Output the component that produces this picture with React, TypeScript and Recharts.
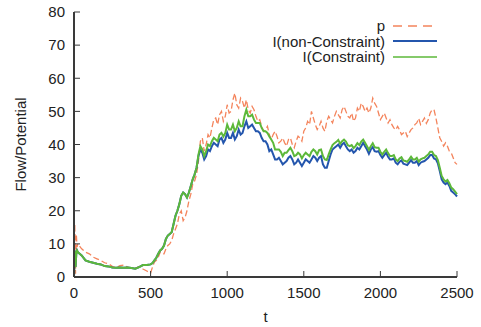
import React from 'react';
import { LineChart, Line, XAxis, YAxis, Legend } from 'recharts';

const tValues = [
  0, 5, 10, 15, 20, 25, 50, 75, 100, 125, 150, 175, 200, 225, 250, 275, 300, 325, 350, 375, 400, 425, 450, 475, 500,
  512.5, 525, 537.5, 550, 562.5, 575, 587.5, 600,
  612.5, 625, 637.5, 650, 662.5, 675, 687.5, 700,
  712.5, 725, 737.5, 750, 762.5, 775, 787.5, 800,
  812.5, 825, 837.5, 850, 862.5, 875, 887.5, 900,
  912.5, 925, 937.5, 950, 962.5, 975, 987.5, 1000,
  1012.5, 1025, 1037.5, 1050, 1062.5, 1075, 1087.5, 1100,
  1112.5, 1125, 1137.5, 1150, 1162.5, 1175, 1187.5, 1200,
  1212.5, 1225, 1237.5, 1250, 1262.5, 1275, 1287.5, 1300,
  1312.5, 1325, 1337.5, 1350, 1362.5, 1375, 1387.5, 1400,
  1412.5, 1425, 1437.5, 1450, 1462.5, 1475, 1487.5, 1500,
  1512.5, 1525, 1537.5, 1550, 1562.5, 1575, 1587.5, 1600,
  1612.5, 1625, 1637.5, 1650, 1662.5, 1675, 1687.5, 1700,
  1712.5, 1725, 1737.5, 1750, 1762.5, 1775, 1787.5, 1800,
  1812.5, 1825, 1837.5, 1850, 1862.5, 1875, 1887.5, 1900,
  1912.5, 1925, 1937.5, 1950, 1962.5, 1975, 1987.5, 2000,
  2012.5, 2025, 2037.5, 2050, 2062.5, 2075, 2087.5, 2100,
  2112.5, 2125, 2137.5, 2150, 2162.5, 2175, 2187.5, 2200,
  2212.5, 2225, 2237.5, 2250, 2262.5, 2275, 2287.5, 2300,
  2312.5, 2325, 2337.5, 2350, 2362.5, 2375, 2387.5, 2400,
  2412.5, 2425, 2437.5, 2450, 2462.5, 2475, 2487.5, 2500,
];

const pValues = [
  0, 16, 1, 13, 9, 10, 8.5, 7.5, 7, 6, 5.5, 5, 4.3, 4, 3.2, 2.8, 3.4, 3.6, 3.0, 2.7, 2.6, 3.2, 2.4, 1.8, 1.2,
  3, 4.5, 5, 6, 7.5, 7, 7, 8.5,
  9.5, 10, 11, 13, 14.5, 16, 19, 20,
  17, 18, 20, 23, 25, 28, 29, 31,
  35, 41, 42, 38, 40, 43, 42, 45,
  47.5, 48, 46, 49, 50, 47, 48.5, 52,
  49.5, 50, 53.5, 55.5, 52, 51, 54, 53,
  51, 53.5, 50.5, 49.5, 51.5, 50.5, 48.5, 47,
  47.5, 45.5, 44, 44.5, 45.5, 43, 41.5, 43,
  44, 42.5, 40.5, 41, 42, 40.5, 39.5, 41.5,
  42, 40, 39, 41, 42.5, 42, 41, 44,
  45, 47, 46, 50, 48, 46, 44.5, 45.5,
  47, 45, 44, 47, 48.5, 47.5, 46.5, 48.5,
  50, 49, 48, 50.5, 51.5, 50, 48.5, 48,
  49.5, 47, 48, 51, 50, 52.5, 51.5, 50,
  51, 49.5, 51, 54, 52.5, 51.5, 49.5, 47.5,
  48.5, 49.5, 48, 46.5, 47.5, 46, 45, 44.4,
  45.5, 44.4, 43, 43.5, 44, 42.4, 43.5, 44.5,
  45, 46, 46.5, 47.9, 46, 47, 48, 46.4,
  47.5, 49.5, 50.5, 50.5, 48, 45, 42, 40.9,
  39.5, 40.5, 39.5, 38, 37.5, 36, 34.5, 34,
];

const nonConstraintValues = [
  0, 8, 3, 7, 8, 7.5, 6.5, 5, 4.6, 4.3, 4, 3.8, 3.3, 3.2, 2.9, 2.8, 2.9, 2.8, 2.9, 2.7, 2.5, 3.0, 3.6, 3.6, 3.8,
  4.2, 5.0, 5.8, 7, 8, 8.5, 9.5, 11.5,
  12.5, 13, 13.5, 16, 18.5, 20, 22, 24.5,
  25.5, 25, 24, 25.5, 27.5, 29.5, 31, 33,
  36.5, 38.5, 37.5, 35.5, 36.5, 38.5, 38, 39.5,
  40.5, 40, 39.5, 41.5, 42, 40.5, 41.5, 43.5,
  42, 42, 43.5, 41.5, 42.5, 44.5, 43, 43.5,
  45.5, 47, 45, 45.5, 46, 45, 44, 44,
  43.5, 42, 41, 41, 40, 38, 38.5, 37,
  35.5, 35.5, 36, 35, 34, 34.5, 35, 36,
  36.5, 35.5, 34, 34.5, 35.5, 34.5, 33.5, 34.5,
  35.5, 35, 34.5, 35.5, 36.5, 36, 35, 36,
  36.5, 34, 33, 33, 35, 37, 38.5, 39,
  39.5, 40, 39, 40, 40.5, 39.5, 38.5, 38,
  38.5, 37.5, 38, 39, 38.5, 39.5, 40.5, 39.5,
  38.5, 37.2, 38.5, 39.2, 38, 37.8, 38, 36.8,
  36, 36.8, 37.5, 36.3, 35.5, 35.5, 35.8, 34.5,
  34, 34.8, 35.2, 34.2, 34, 33.8, 34.5, 35.3,
  34.5, 34.5, 35, 33.8, 34.5, 34.8, 35, 35.5,
  36, 36.8, 36.8, 35.8, 35.5, 34.3, 32, 29.5,
  28.5, 28, 28.5, 27.5, 26, 25.5, 25, 24.3,
];

const constraintValues = [
  0, 8, 3, 7, 8, 7.5, 6.5, 5, 4.6, 4.3, 4, 3.8, 3.3, 3.2, 2.9, 2.8, 2.9, 2.8, 2.9, 2.7, 2.5, 3.0, 3.6, 3.6, 3.8,
  4.2, 5.0, 5.8, 7, 8, 8.5, 9.5, 11.5,
  12.5, 13, 13.5, 16, 18.5, 20, 22, 24.5,
  25.5, 25, 24, 25.5, 27.5, 29.5, 31, 33,
  37, 39.5, 38.5, 36.5, 38, 40, 39.5, 41,
  42, 41.5, 41, 43, 43.5, 42.4, 43.5, 46,
  44.5, 44.5, 46, 44, 45, 47, 45.5, 45.5,
  48.5, 50.5, 48.5, 48.5, 49, 47.5, 46.5, 46.5,
  46.5, 45, 44, 44, 43.5, 42.4, 41.5, 40.5,
  38.5, 38.5, 38.5, 37.8, 36.5, 37.5, 37.5, 38.3,
  39, 38, 36.5, 36.8, 37.5, 37, 35.8, 36.8,
  37.5, 37, 36.5, 37.8, 38.5, 38, 37, 38.3,
  38.5, 36.5, 35.5, 35.3, 37, 38.5, 39.8, 40.4,
  40.8, 41.4, 40.2, 41, 41.5, 40.9, 39.8, 39.5,
  39.8, 38.9, 39.5, 40.4, 39.8, 40.9, 41.5, 40.5,
  39.5, 38.4, 39.5, 40.4, 39.2, 39, 39, 37.8,
  37, 37.8, 38.5, 37.4, 36.5, 36.5, 36.8, 35.5,
  35, 35.8, 36.2, 35.2, 35, 34.8, 35.5, 36.3,
  35.5, 35.5, 36, 34.8, 35.5, 35.8, 36, 36.5,
  37, 37.8, 37.8, 36.8, 36.5, 35.3, 33, 30.5,
  29.5, 28.8, 29.3, 28.3, 27, 26.5, 25.8, 25,
];

const xTicks = [0, 500, 1000, 1500, 2000, 2500];
const yTicks = [0, 10, 20, 30, 40, 50, 60, 70, 80];

const seriesNames = ['p', 'I(non-Constraint)', 'I(Constraint)'];

const data = tValues.map((t, i) => ({
  t,
  p: pValues[i],
  non: nonConstraintValues[i],
  con: constraintValues[i],
}));

const FONT = '"Liberation Sans", Arial, sans-serif';
const AXIS = '#3a3a3a';
const ORANGE = '#f4845c';
const BLUE = '#2456ad';
const GREEN = '#5cb83a';

const legendItems = [
  { name: seriesNames[0], color: ORANGE, dash: '9 6', width: 1.5 },
  { name: seriesNames[1], color: BLUE, dash: undefined, width: 2 },
  { name: seriesNames[2], color: GREEN, dash: undefined, width: 1.5 },
];

const LegendContent = () => (
  <div style={{ fontFamily: FONT, fontSize: 15, color: '#222' }}>
    {legendItems.map((it) => (
      <div key={it.name} style={{ display: 'flex', alignItems: 'center', justifyContent: 'flex-end', height: 15.5 }}>
        <span style={{ marginRight: 8, lineHeight: '15.5px', whiteSpace: 'nowrap' }}>{it.name}</span>
        <svg width={44} height={4} style={{ display: 'block' }}>
          <line x1={0} y1={2} x2={44} y2={2} stroke={it.color} strokeWidth={it.width} strokeDasharray={it.dash} />
        </svg>
      </div>
    ))}
  </div>
);

const YLabel = (props: any) => {
  const vb = props.viewBox || { y: 12, height: 265 };
  const cy = vb.y + vb.height / 2;
  return (
    <text x={26} y={cy} transform={`rotate(-90, 26, ${cy})`} textAnchor="middle" fontFamily={FONT} fontSize={15} fill="#222">
      Flow/Potential
    </text>
  );
};

const EmptyTick = () => <g />;

export default function App() {
  const tickStyle = { fontFamily: FONT, fontSize: 15, fill: '#222' };
  return (
    <div style={{ position: 'absolute', left: 0, top: 0, width: 481, height: 327, background: '#fff' }}>
      <LineChart width={481} height={327} data={data} margin={{ top: 12, right: 24, bottom: 0, left: 0 }}>
        <XAxis
          dataKey="t"
          type="number"
          domain={[0, 2500]}
          ticks={xTicks}
          height={50}
          tickSize={-6}
          tickMargin={16}
          tick={tickStyle}
          axisLine={{ stroke: AXIS, strokeWidth: 2 }}
          tickLine={{ stroke: AXIS, strokeWidth: 1 }}
          label={{ value: 't', position: 'insideBottom', offset: 5, style: { fontFamily: FONT, fontSize: 15, fill: '#222' } }}
        />
        <XAxis
          xAxisId="top"
          orientation="top"
          type="number"
          domain={[0, 2500]}
          ticks={xTicks}
          height={0}
          tickSize={-6}
          tick={EmptyTick}
          axisLine={{ stroke: AXIS, strokeWidth: 2 }}
          tickLine={{ stroke: AXIS, strokeWidth: 1 }}
        />
        <YAxis
          type="number"
          domain={[0, 80]}
          ticks={yTicks}
          width={74}
          tickSize={-6}
          tickMargin={15}
          tick={tickStyle}
          axisLine={{ stroke: AXIS, strokeWidth: 2 }}
          tickLine={{ stroke: AXIS, strokeWidth: 1 }}
          label={<YLabel />}
        />
        <YAxis
          yAxisId="right"
          orientation="right"
          type="number"
          domain={[0, 80]}
          ticks={yTicks}
          width={0}
          tickSize={-6}
          tick={EmptyTick}
          axisLine={{ stroke: AXIS, strokeWidth: 2 }}
          tickLine={{ stroke: AXIS, strokeWidth: 1 }}
        />
        <Legend
          layout="horizontal"
          verticalAlign="middle"
          align="center"
          content={<LegendContent />}
          wrapperStyle={{ position: 'absolute', top: 18, right: 44, left: 'auto', bottom: 'auto', width: 'auto', height: 'auto' }}
        />
        <Line dataKey="p" name={seriesNames[0]} stroke={ORANGE} strokeWidth={1.3} strokeDasharray="6 3" dot={false} isAnimationActive={false} />
        <Line dataKey="non" name={seriesNames[1]} stroke={BLUE} strokeWidth={2} dot={false} isAnimationActive={false} />
        <Line dataKey="con" name={seriesNames[2]} stroke={GREEN} strokeWidth={2} dot={false} isAnimationActive={false} />
      </LineChart>
    </div>
  );
}
